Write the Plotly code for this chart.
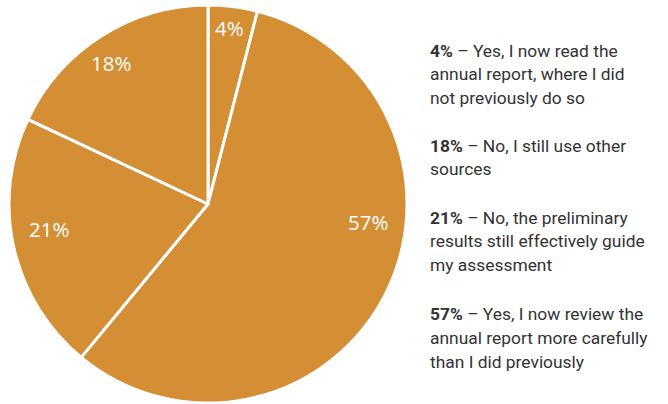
import math
import plotly.graph_objects as go

# Survey responses, clockwise from 12 o'clock
shares = [4, 57, 21, 18]
slice_labels = ["4%", "57%", "21%", "18%"]
answers = [
    ["Yes, I now read the", "annual report, where I did", "not previously do so"],
    ["Yes, I now review the", "annual report more carefully", "than I did previously"],
    ["No, the preliminary", "results still effectively guide", "my assessment"],
    ["No, I still use other", "sources"],
]
# Order of the explanatory notes on the right
note_order = [0, 3, 2, 1]

W, H = 668, 404
fill = "#D48F35"

# Pie geometry (pixels)
cx, cy, R = 208, 204, 199
# Where each value label sits: fraction across the slice's sweep, fraction of radius
label_sweep = [0.49, 0.40, 0.55, 0.47]
label_radius = [0.89, 0.81, 0.81, 0.86]

fig = go.Figure(
    go.Pie(
        values=shares,
        textinfo="none",
        sort=False,
        direction="clockwise",
        rotation=0,
        marker=dict(colors=[fill] * len(shares), line=dict(color="white", width=3)),
        hoverinfo="skip",
        domain=dict(x=[(cx - R) / W, (cx + R) / W], y=[1 - (cy + R) / H, 1 - (cy - R) / H]),
        showlegend=False,
    )
)

# Value labels, placed from the cumulative shares
total = sum(shares)
start = 0.0
for v, lab, fs, fr in zip(shares, slice_labels, label_sweep, label_radius):
    ang = 2 * math.pi * (start + fs * v) / total
    px = cx + fr * R * math.sin(ang)
    py = cy - fr * R * math.cos(ang)
    fig.add_annotation(
        x=px / W,
        y=1 - py / H,
        xref="paper",
        yref="paper",
        xanchor="center",
        yanchor="middle",
        showarrow=False,
        text=lab,
        font=dict(family="Open Sans, sans-serif", size=20.5, color="white"),
    )
    start += v

# Explanatory notes: one annotation per line so the leading can be set
note_centers = [50.5, 145.5, 217.5, 314]
leading = 23.8
note_font = dict(family="Roboto, sans-serif", size=17.4, color="#333333")
for top, idx in zip(note_centers, note_order):
    for k, line in enumerate(answers[idx]):
        txt = f"<b>{slice_labels[idx]}</b> – {line}" if k == 0 else line
        fig.add_annotation(
            x=428 / W,
            y=1 - (top + k * leading) / H,
            xref="paper",
            yref="paper",
            xanchor="left",
            yanchor="middle",
            align="left",
            showarrow=False,
            text=txt,
            font=note_font,
        )

fig.update_layout(
    width=W,
    height=H,
    margin=dict(l=0, r=0, t=0, b=0),
    paper_bgcolor="white",
    plot_bgcolor="white",
)

fig.write_html("out.html")
